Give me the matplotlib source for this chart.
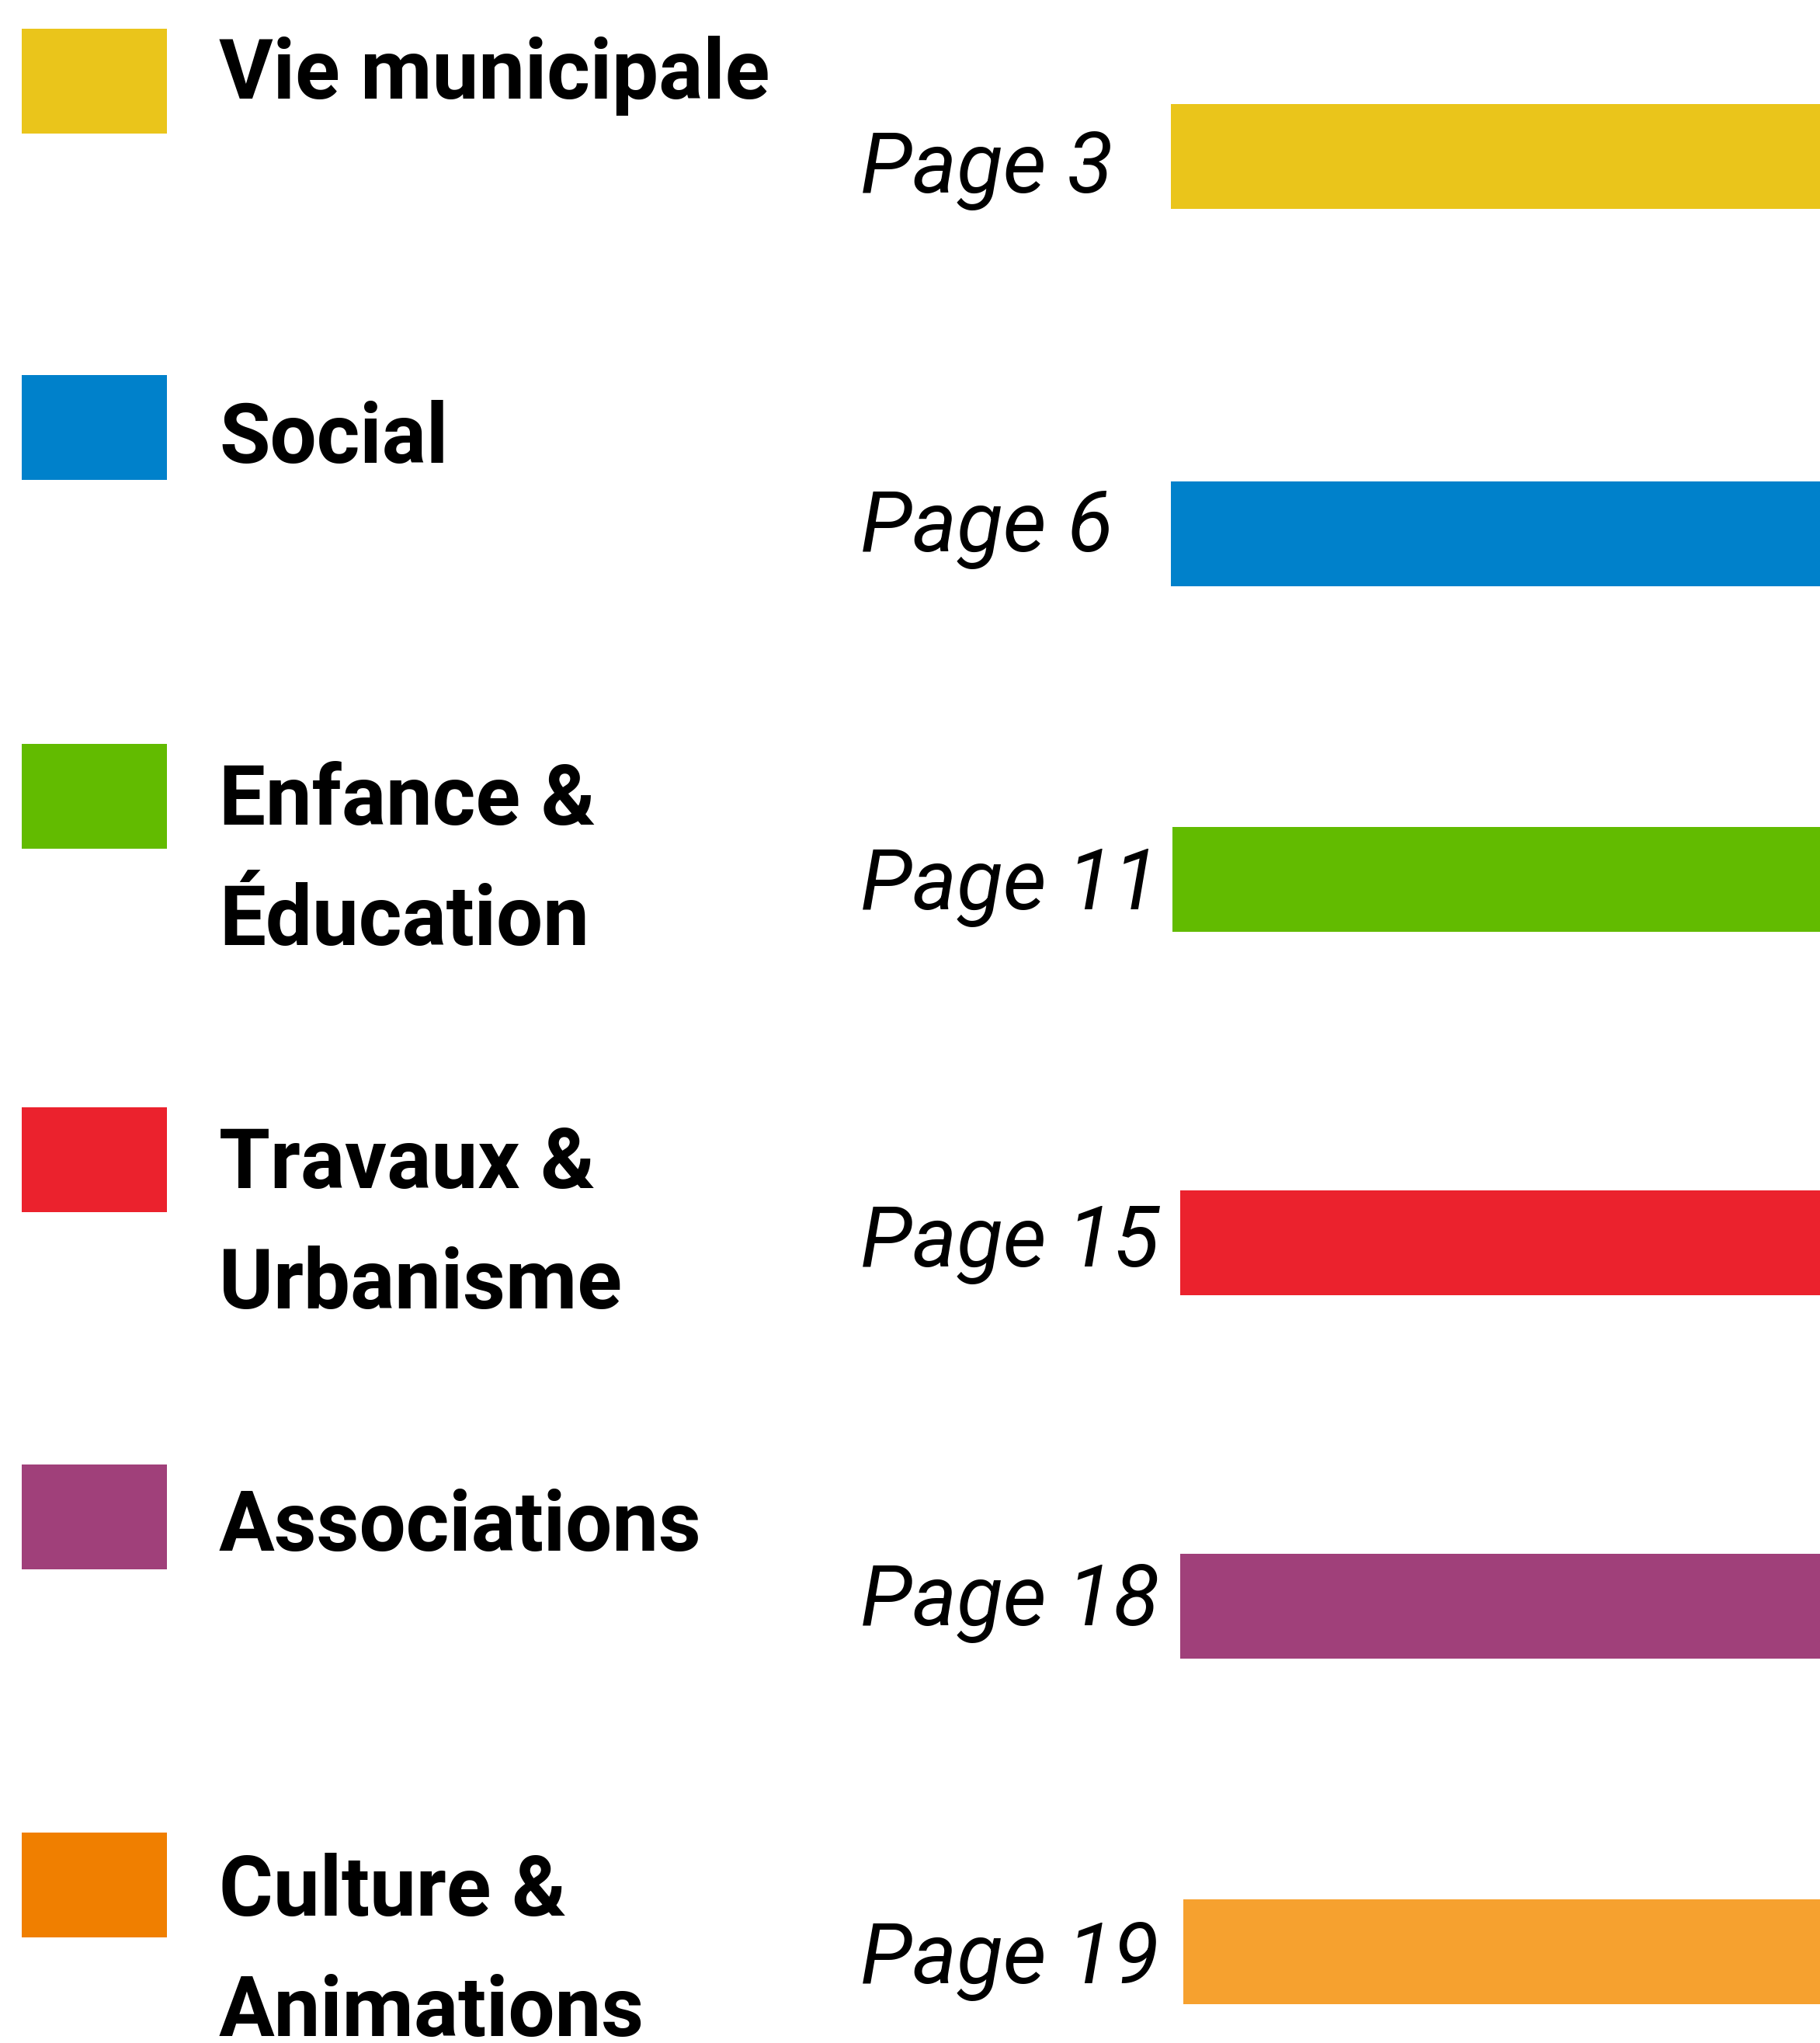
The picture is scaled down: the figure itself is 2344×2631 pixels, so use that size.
import matplotlib
matplotlib.use("Agg")
import matplotlib.pyplot as plt
from matplotlib.patches import Rectangle

# ---- data ----
categories = ["Vie municipale", "Social", "Enfance &\nÉducation", "Travaux &\nUrbanisme",
              "Associations", "Culture &\nAnimations"]
pages = [3, 6, 11, 15, 18, 19]
square_colors = ["#EAC51B", "#0081CB", "#62BB00", "#EB222D", "#A0407A", "#F07F00"]
bar_colors = ["#EAC51B", "#0081CB", "#62BB00", "#EB222D", "#A0407A", "#F6A12F"]

# ---- layout (pixel units) ----
W, H = 2344, 2631
square_top = [37, 483, 958, 1426, 1886, 2360]
square_h = 135
label_base = [127, 596, 1062, 1530, 1997, 2467]
line_step = 155
page_base = [248, 710, 1171, 1631, 2093, 2554]
bar_center = [201, 687, 1132, 1600, 2068, 2513]
bar_left = [1508, 1508, 1510, 1520, 1520, 1524]
bar_h = 135

fig = plt.figure(figsize=(W / 100, H / 100), dpi=100)
ax = fig.add_axes([0, 0, 1, 1])
ax.set_xlim(0, W)
ax.set_ylim(H, 0)
ax.axis("off")

for i, cat in enumerate(categories):
    ax.add_patch(Rectangle((28, square_top[i]), 187, square_h, color=square_colors[i], lw=0))
    for j, line in enumerate(cat.split("\n")):
        ax.text(282, label_base[i] + j * line_step, line, fontfamily="Roboto",
                fontweight="bold", fontsize=76.8, va="baseline", ha="left", color="black")
    ax.text(1108, page_base[i], f"Page {pages[i]}", fontfamily="Roboto", fontstyle="italic",
            fontsize=78.5, va="baseline", ha="left", color="black")

ax.barh(bar_center, [W - l for l in bar_left], left=bar_left, height=bar_h,
        color=bar_colors, linewidth=0)

fig.savefig("out.png", dpi=100, facecolor="white")
